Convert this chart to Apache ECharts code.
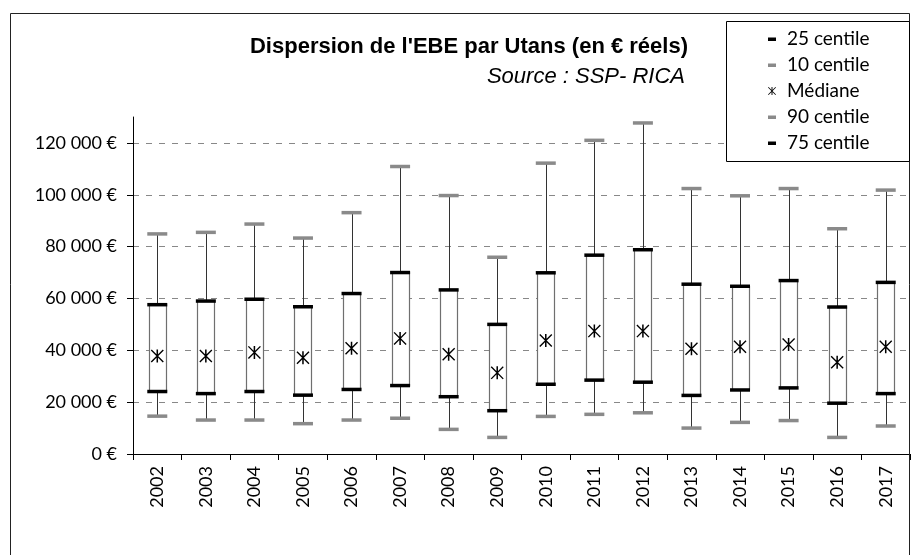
<!DOCTYPE html>
<html>
<head>
<meta charset="utf-8">
<script src="https://cdn.jsdelivr.net/npm/echarts@6/dist/echarts.min.js"></script>
<style>
  html, body { margin: 0; padding: 0; background: #fff; }
  #chart { width: 911px; height: 555px; }
</style>
</head>
<body>
<div id="chart"></div>
<script>
// values, in euros
const years = ["2002", "2003", "2004", "2005", "2006", "2007", "2008", "2009",
  "2010", "2011", "2012", "2013", "2014", "2015", "2016", "2017"];
const p10 = [14600, 13100, 13100, 11700, 13100, 13800, 9500, 6400,
  14500, 15300, 15900, 10000, 12200, 12900, 6400, 10800];
const p25 = [24100, 23300, 24100, 22700, 24900, 26400, 22100, 16700,
  26900, 28500, 27700, 22600, 24700, 25500, 19600, 23300];
const median = [37800, 37800, 39200, 37100, 40800, 44600, 38500, 31300,
  43800, 47400, 47400, 40600, 41400, 42200, 35400, 41400];
const p75 = [57600, 59000, 59700, 56800, 61900, 70000, 63300, 50000,
  69900, 76700, 78800, 65500, 64700, 66900, 56700, 66200];
const p90 = [84900, 85500, 88700, 83300, 93100, 110900, 99700, 75900,
  112200, 121000, 127700, 102400, 99600, 102400, 86900, 101800];
const yTicks = [0, 20000, 40000, 60000, 80000, 100000, 120000];

const GRAY = "#8a8a8a";
const FONT = "Lato, 'Noto Sans', sans-serif";
const TITLE_FONT = "'Liberation Sans Narrow', 'Liberation Sans', sans-serif";
const STAR = "path://M5.3,0H6.7V12H5.3Z M0,0.9L0.9,0L12,11.1L11.1,12Z M12,0.9L0.9,12L0,11.1L11.1,0Z";
const STAR_ICON = "path://M0,-2M0,14M5.3,0H6.7V12H5.3Z M0,0.9L0.9,0L12,11.1L11.1,12Z M12,0.9L0.9,12L0,11.1L11.1,0Z";
const DASH_ICON = "path://M0,0M0,14M0,5.5H8V9H0Z";

const euro = (v) => String(v).replace(/\B(?=(\d{3})+(?!\d))/g, " ") + " €";

const chart = echarts.init(document.getElementById("chart"));

const dash = (name, values, color) => ({
  name,
  type: "scatter",
  data: values,
  symbol: "rect",
  symbolSize: [20, 3.5],
  itemStyle: { color, opacity: 1 },
  emphasis: { disabled: true },
  z: 5,
});

const options = {
  animation: false,
  graphic: [
    {
      type: "rect",
      shape: { x: 10.5, y: 13.5, width: 899, height: 600 },
      style: { fill: "none", stroke: "#222", lineWidth: 1 },
      z: 1,
    },
    {
      type: "rect",
      shape: { x: 726.5, y: 21.5, width: 183, height: 140 },
      style: { fill: "#fff", stroke: "#000", lineWidth: 1 },
      z: 3,
    },
    {
      type: "text",
      x: 688,
      y: 47,
      style: {
        text: "Dispersion de l'EBE par Utans (en € réels)",
        align: "right",
        verticalAlign: "middle",
        font: "bold 22px " + TITLE_FONT,
        fill: "#000",
      },
      z: 3,
    },
    {
      type: "text",
      x: 685,
      y: 77,
      style: {
        text: "Source : SSP- RICA",
        align: "right",
        verticalAlign: "middle",
        font: "italic 22px " + TITLE_FONT,
        fill: "#000",
      },
      z: 3,
    },
  ],
  legend: {
    orient: "vertical",
    left: 768,
    top: 29,
    itemWidth: 8,
    itemHeight: 14,
    itemGap: 6,
    selectedMode: false,
    padding: 0,
    textStyle: {
      fontFamily: FONT,
      fontSize: 19,
      lineHeight: 20,
      color: "#000",
      padding: [0, 0, 0, 6],
    },
    data: [
      { name: "25 centile", icon: DASH_ICON },
      { name: "10 centile", icon: DASH_ICON },
      { name: "Médiane", icon: STAR_ICON },
      { name: "90 centile", icon: DASH_ICON },
      { name: "75 centile", icon: DASH_ICON },
    ],
    z: 4,
  },
  grid: {
    left: 133,
    right: 1,
    top: 117,
    bottom: 101,
    containLabel: false,
    outerBoundsMode: "none",
  },
  xAxis: {
    type: "category",
    data: years,
    boundaryGap: true,
    axisLine: { show: true, lineStyle: { color: "#000", width: 1 } },
    axisTick: { show: true, length: 6, lineStyle: { color: "#000" } },
    axisLabel: {
      rotate: 90,
      margin: 12,
      interval: 0,
      fontFamily: FONT,
      fontSize: 18,
      color: "#000",
    },
    splitLine: { show: false },
  },
  yAxis: {
    type: "value",
    min: 0,
    max: 130000,
    interval: 20000,
    axisLine: { show: true, lineStyle: { color: "#000", width: 1 } },
    axisTick: { show: true, length: 6, customValues: yTicks, lineStyle: { color: "#000" } },
    axisLabel: {
      customValues: yTicks,
      margin: 16,
      fontFamily: FONT,
      fontSize: 18,
      color: "#000",
      formatter: euro,
    },
    splitLine: {
      show: true,
      showMinLine: false,
      lineStyle: { color: "#888", type: [6, 7], width: 1 },
    },
  },
  series: [
    {
      type: "custom",
      name: "box",
      data: years.map((y, i) => [i, p10[i], p25[i], p75[i], p90[i]]),
      encode: { x: 0, y: [1, 2, 3, 4] },
      renderItem: (params, api) => {
        const x = api.coord([api.value(0), 0])[0];
        const lo = api.coord([api.value(0), api.value(1)])[1];
        const q1 = api.coord([api.value(0), api.value(2)])[1];
        const q3 = api.coord([api.value(0), api.value(3)])[1];
        const hi = api.coord([api.value(0), api.value(4)])[1];
        const w = 17;
        return {
          type: "group",
          children: [
            {
              type: "line",
              shape: { x1: Math.round(x) + 0.5, y1: hi, x2: Math.round(x) + 0.5, y2: lo },
              style: { stroke: "#333", lineWidth: 1 },
            },
            {
              type: "rect",
              shape: { x: Math.round(x - w / 2) + 0.5, y: q3, width: w, height: q1 - q3 },
              style: { fill: "#fff", stroke: "#6f6f6f", lineWidth: 1.2 },
            },
          ],
        };
      },
      z: 3,
    },
    dash("25 centile", p25, "#000"),
    dash("10 centile", p10, GRAY),
    {
      name: "Médiane",
      type: "scatter",
      data: median,
      symbol: STAR,
      symbolSize: [13, 13],
      itemStyle: { color: "#000", opacity: 1 },
      emphasis: { disabled: true },
      z: 5,
    },
    dash("90 centile", p90, GRAY),
    dash("75 centile", p75, "#000"),
  ],
};

chart.setOption(options);
window.addEventListener("resize", () => chart.resize());
</script>
</body>
</html>
